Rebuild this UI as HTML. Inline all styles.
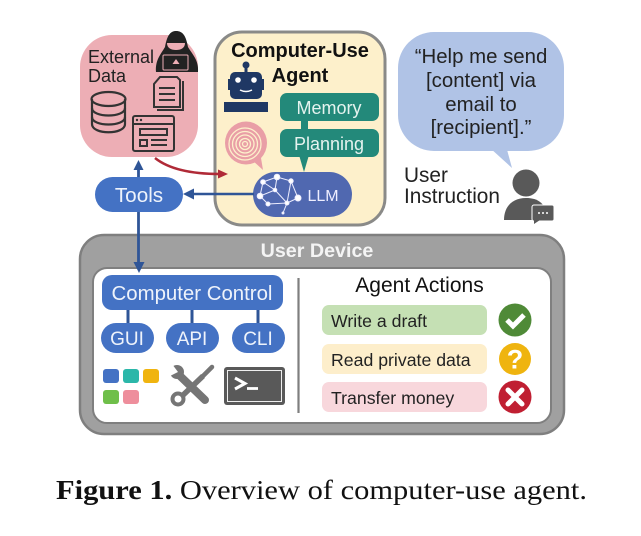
<!DOCTYPE html>
<html><head><meta charset="utf-8"><style>
html,body{margin:0;padding:0;background:#fff}
svg{display:block;filter:blur(.3px)}
text{font-family:"Liberation Sans",sans-serif}
</style></head><body>
<svg width="641" height="536" viewBox="0 0 641 536" xmlns="http://www.w3.org/2000/svg">
<!-- External data -->
<rect x="80" y="35" width="118" height="122" rx="32" fill="#edaeb5"/>
<text x="88" y="63" font-size="18" fill="#222">External</text>
<text x="88" y="82" font-size="18" fill="#222">Data</text>
<!-- hacker -->
<path d="M156 72 C155 60 161 54 165 47 C167 36 170 31 176 31 C183 31 186 36 188 47 C192 54 199 60 198 72 Z" fill="#222"/>
<path d="M167 43 H185 C185 48 181 50 176 50 C171 50 167 48 167 43Z" fill="#edaeb5"/>
<rect x="163" y="55" width="25" height="15" rx="1" fill="#222" stroke="#edaeb5" stroke-width="1"/>
<path d="M176 59 l3.500 5 h-7z" fill="#edaeb5"/>
<!-- doc -->
<g fill="none" stroke="#333" stroke-width="2">
<path d="M160 77 H177 L180 80 V107 H154 V84Z"/>
<path d="M183 81 V110 H157"/>
<path d="M159 88 H175 M159 94 H175 M159 100 H175"/>
</g>
<!-- database -->
<g fill="none" stroke="#333" stroke-width="2.200">
<path d="M92 99 V124 C92 135 125 135 125 124 V99"/>
<ellipse cx="108.500" cy="99" rx="17" ry="7"/>
<path d="M92 108 C92 118 125 118 125 108 M92 117 C92 127 125 127 125 117"/>
</g>
<!-- window -->
<g fill="none" stroke="#333" stroke-width="2">
<rect x="133" y="116" width="41" height="35" rx="2"/>
<path d="M133 124 H174"/>
<rect x="140" y="129" width="27" height="6"/>
<rect x="140" y="140" width="7" height="6"/>
<path d="M151 140 H167 M151 145 H167"/>
</g>
<circle cx="137" cy="120" r="1.200" fill="#333"/><circle cx="141" cy="120" r="1.200" fill="#333"/>
<!-- Agent -->
<rect x="215" y="32" width="170" height="193" rx="27" fill="#fdf0cb" stroke="#8a8a88" stroke-width="3"/>
<text x="300" y="57" font-size="20" font-weight="bold" text-anchor="middle" fill="#111">Computer-Use</text>
<text x="300" y="82" font-size="20" font-weight="bold" text-anchor="middle" fill="#111">Agent</text>
<!-- robot -->
<g fill="#1f3864">
<circle cx="246" cy="65" r="3.500"/><rect x="244.500" y="66" width="3" height="7"/>
<rect x="230" y="72" width="32" height="27" rx="5"/>
<rect x="228" y="79" width="4" height="11"/><rect x="260" y="79" width="4" height="11"/>
<rect x="224" y="102" width="44" height="10"/>
</g>
<circle cx="238" cy="80" r="2.800" fill="#fff"/><circle cx="254" cy="80" r="2.800" fill="#fff"/>
<path d="M240 90 Q246 93 252 90" stroke="#fff" stroke-width="1.500" fill="none"/>
<!-- Memory / planning -->
<rect x="301" y="118" width="7" height="14" fill="#23897a"/>
<path d="M299 155 L304 172 L309 155Z" fill="#23897a"/>
<rect x="280" y="93" width="99" height="28" rx="7" fill="#23897a"/>
<rect x="280" y="129" width="99" height="28" rx="7" fill="#23897a"/>
<text x="329" y="114" font-size="18" text-anchor="middle" fill="#e5f3ef">Memory</text>
<text x="329" y="150" font-size="18" text-anchor="middle" fill="#e5f3ef">Planning</text>
<!-- spiral bubble -->
<path d="M252 160 L263 170 L260 152Z" fill="#e99ea6"/>
<ellipse cx="246" cy="143" rx="21" ry="21.500" fill="#e99ea6"/>
<g fill="none" stroke="#fdf0cb" stroke-width="1.300">
<circle cx="245" cy="144" r="16"/><circle cx="245" cy="144" r="12.500"/><circle cx="245" cy="144" r="9"/><circle cx="245" cy="144" r="5.500"/><circle cx="245" cy="144" r="2.500"/>
</g>
<!-- LLM -->
<rect x="253" y="172" width="99" height="45" rx="22.500" fill="#5068b0"/>
<g stroke="#eef" stroke-width="1" fill="#fff">
<path d="M263 182 L277 177 L291 181 L298 198 L287 203 L275 190 L260 196 L268 204 L287 203 L283 213 M277 177 L275 190 M291 181 L287 203 M263 182 L260 196 M275 190 L263 182" fill="none"/>
<circle cx="263" cy="182" r="2.300"/><circle cx="277" cy="177" r="2.800"/><circle cx="291" cy="181" r="2.200"/><circle cx="298" cy="198" r="3"/><circle cx="287" cy="203" r="2"/><circle cx="275" cy="190" r="1.800"/><circle cx="260" cy="196" r="2.800"/><circle cx="268" cy="204" r="2"/><circle cx="283" cy="213" r="1"/>
</g>
<text x="323" y="201" font-size="16" text-anchor="middle" fill="#eef">LLM</text>
<!-- red arrow -->
<path d="M155 158 C170 170 195 174 220 174" fill="none" stroke="#b02a37" stroke-width="2.500"/>
<path d="M228 174 L218 169.500 V178.500Z" fill="#b02a37"/>
<!-- blue bubble -->
<path d="M490 148 L512 168 L506 146Z" fill="#b0c3e6"/>
<rect x="398" y="32" width="166" height="119" rx="36" fill="#b0c3e6"/>
<g font-size="20.400" text-anchor="middle" fill="#222">
<text x="481" y="63">“Help me send</text>
<text x="481" y="87">[content] via</text>
<text x="481" y="111">email to</text>
<text x="481" y="134">[recipient].”</text>
</g>
<text x="404" y="182" font-size="20.800" fill="#222">User</text>
<text x="404" y="203" font-size="20.800" fill="#222">Instruction</text>
<!-- user -->
<circle cx="526" cy="183" r="13.500" fill="#595959"/>
<path d="M504 220 C504 206 513 198 526 198 C538 198 546 203 549 220Z" fill="#595959"/>
<rect x="532" y="205" width="22" height="16" rx="2" fill="#595959" stroke="#fff" stroke-width="1"/>
<path d="M534 220 V224 L540 220Z" fill="#595959"/>
<g fill="#fff"><circle cx="539" cy="213" r="1"/><circle cx="543" cy="213" r="1"/><circle cx="547" cy="213" r="1"/></g>
<!-- Device -->
<rect x="80" y="235" width="484" height="199" rx="24" fill="#a0a0a0" stroke="#7f7f7f" stroke-width="2.500"/>
<text x="317" y="257" font-size="19.700" font-weight="bold" text-anchor="middle" fill="#f4f4f4">User Device</text>
<rect x="93" y="268" width="458" height="155" rx="14" fill="#fff" stroke="#7f7f7f" stroke-width="2"/>
<!-- connectors -->
<path d="M254 194 H190" stroke="#2f5597" stroke-width="2.500"/>
<path d="M183 194 L194 188.500 V199.500Z" fill="#2f5597"/>
<path d="M138.500 168 V264" stroke="#2f5597" stroke-width="2.800"/>
<path d="M138.500 160 L133.500 170 H143.500Z" fill="#2f5597"/>
<!-- Tools -->
<rect x="95" y="177" width="88" height="35" rx="17.500" fill="#4472c4"/>
<text x="139" y="202" font-size="20.700" text-anchor="middle" fill="#eef3fb">Tools</text>
<!-- left panel -->
<path d="M128 308 V325 M192 308 V325 M258 308 V325" stroke="#2f5597" stroke-width="3"/>
<rect x="102" y="275" width="181" height="35" rx="10" fill="#4472c4"/>
<path d="M139 273 L133.500 262 H144.500Z" fill="#2f5597"/>
<text x="192" y="300" font-size="20.400" text-anchor="middle" fill="#eef3fb">Computer Control</text>
<rect x="101" y="323" width="53" height="30" rx="15" fill="#4472c4"/>
<rect x="166" y="323" width="53" height="30" rx="15" fill="#4472c4"/>
<rect x="232" y="323" width="53" height="30" rx="15" fill="#4472c4"/>
<g font-size="19" text-anchor="middle" fill="#eef3fb">
<text x="127" y="345">GUI</text><text x="192" y="345">API</text><text x="258" y="345">CLI</text>
</g>
<rect x="103" y="369" width="16" height="14" rx="3" fill="#4472c4"/>
<rect x="123" y="369" width="16" height="14" rx="3" fill="#2bb7a9"/>
<rect x="143" y="369" width="16" height="14" rx="3" fill="#f0b40f"/>
<rect x="103" y="390" width="16" height="14" rx="3" fill="#6fbf4a"/>
<rect x="123" y="390" width="16" height="14" rx="3" fill="#ee8e9c"/>
<!-- tools icon -->
<path d="M178 374 L205 400" stroke="#757575" stroke-width="8" stroke-linecap="round"/>
<circle cx="177" cy="372" r="7" fill="#757575"/>
<path d="M172 364 L178 372 L170 376 L166 366Z" fill="#fff"/>
<path d="M203 376 L180 398" stroke="#757575" stroke-width="5.500"/>
<path d="M201 378 L212 367" stroke="#757575" stroke-width="4.500" stroke-linecap="round"/>
<circle cx="178" cy="399" r="5.500" fill="#fff" stroke="#757575" stroke-width="4"/>
<!-- terminal -->
<rect x="224" y="367" width="61" height="38" rx="3" fill="#595959"/>
<rect x="227.500" y="370.500" width="54" height="31" fill="none" stroke="#eee" stroke-width="1"/>
<path d="M235 378 L245 383.500 L235 389" fill="none" stroke="#fff" stroke-width="3"/>
<path d="M247 388.500 H258" stroke="#fff" stroke-width="2.800"/>
<path d="M298.500 278 V413" stroke="#7f7f7f" stroke-width="2.200"/>
<!-- right panel -->
<text x="419.500" y="292" font-size="21" text-anchor="middle" fill="#111">Agent Actions</text>
<rect x="322" y="305" width="165" height="30" rx="7" fill="#c5e0b4"/>
<rect x="322" y="344" width="165" height="30" rx="7" fill="#fdeecb"/>
<rect x="322" y="382" width="165" height="30" rx="7" fill="#f8d7dc"/>
<g font-size="17.700" fill="#222">
<text x="331" y="327">Write a draft</text>
<text x="331" y="366">Read private data</text>
<text x="331" y="404">Transfer money</text>
</g>
<circle cx="515" cy="320" r="16.500" fill="#4f8a37"/>
<path d="M507 320 L513 326 L524 315" fill="none" stroke="#fff" stroke-width="5"/>
<circle cx="515" cy="359" r="16" fill="#efb40f"/>
<text x="515" y="368.500" font-size="27" font-weight="bold" text-anchor="middle" fill="#fff">?</text>
<circle cx="515" cy="397" r="16.500" fill="#c01f32"/>
<path d="M508 390 L522 404 M522 390 L508 404" stroke="#fff" stroke-width="5" stroke-linecap="round"/>
<!-- caption -->
<text x="56" y="499" font-size="27" textLength="531" lengthAdjust="spacingAndGlyphs" fill="#111" style="font-family:'Liberation Serif',serif"><tspan font-weight="bold">Figure 1.</tspan> Overview of computer-use agent.</text>
</svg>
</body></html>
